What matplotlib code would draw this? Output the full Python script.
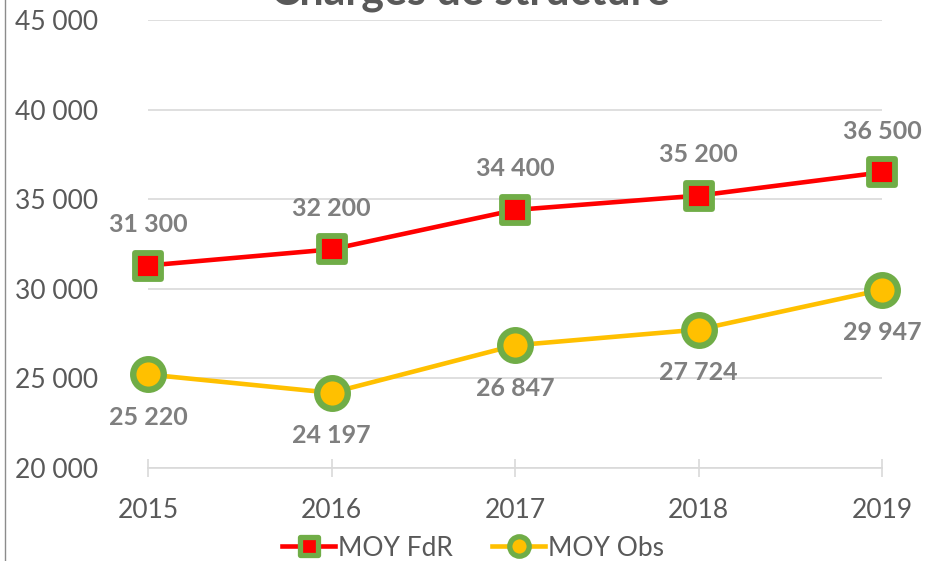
import matplotlib
matplotlib.use("Agg")
import matplotlib.pyplot as plt
from matplotlib.lines import Line2D
from matplotlib.markers import MarkerStyle

years = [2015, 2016, 2017, 2018, 2019]
moy_fdr = [31300, 32200, 34400, 35200, 36500]
moy_obs = [25220, 24197, 26847, 27724, 29947]
y_ticks = [20000, 25000, 30000, 35000, 40000, 45000]
title = "Charges de structure"
series_names = ["MOY FdR", "MOY Obs"]

def fmt(v):
    return f"{v:,}".replace(",", " ")

plt.rcParams['font.family'] = ['Lato', 'DejaVu Sans']

W, H = 928, 561
fig = plt.figure(figsize=(W / 100, H / 100), dpi=100)
ax = fig.add_axes([148 / W, (H - 468) / H, (882 - 148) / W, (468 - 20) / H])

red = "#FF0000"
yellow = "#FFC000"
green = "#70AD47"
grid = "#D9D9D9"
txt = "#595959"
lbl = "#7F7F7F"

sq = MarkerStyle("s", joinstyle="round")
ax.plot(years, moy_fdr, color=red, lw=3.3, marker=sq, ms=19, mfc=red, mec=green, mew=4.2, zorder=3,
        solid_capstyle="round", clip_on=False)
ax.plot(years, moy_obs, color=yellow, lw=3.3, marker="o", ms=22, mfc=yellow, mec=green, mew=4.6, zorder=3,
        solid_capstyle="round", clip_on=False)

for x, v in zip(years, moy_fdr):
    ax.annotate(fmt(v), (x, v), xytext=(0, 29.5), textcoords="offset points", ha="center", va="center",
                fontsize=18, fontweight="bold", color=lbl, annotation_clip=False)
for x, v in zip(years, moy_obs):
    ax.annotate(fmt(v), (x, v), xytext=(0, -31), textcoords="offset points", ha="center", va="center",
                fontsize=18, fontweight="bold", color=lbl, annotation_clip=False)

ax.set_xlim(2015, 2019)
ax.set_ylim(20000, 45000)
ax.set_yticks(y_ticks)
ax.set_yticklabels([fmt(v) for v in y_ticks])
ax.set_xticks(years)
ax.set_xticklabels([str(y) for y in years])
ax.yaxis.grid(True, color=grid, lw=1.2)
ax.set_axisbelow(True)
for s in ["top", "right", "left"]:
    ax.spines[s].set_visible(False)
ax.spines["bottom"].set_color(grid)
ax.spines["bottom"].set_linewidth(1.2)
ax.tick_params(axis="y", length=0, pad=36, labelsize=19, labelcolor=txt)
ax.tick_params(axis="x", direction="inout", length=13, width=1.2, color=grid, pad=15, labelsize=19, labelcolor=txt)
for t in ax.get_yticklabels():
    t.set_horizontalalignment("right")

fig.text(470 / W, (H - 4) / H, title, ha="center", va="baseline", fontsize=31, fontweight="bold", color=txt)

fig.add_artist(Line2D([5 / W, 5 / W], [0, 1], transform=fig.transFigure, color="#8C8C8C", lw=1))

handles = [
    Line2D([], [], color=red, lw=3.3, marker=sq, ms=13, mfc=red, mec=green, mew=3.8),
    Line2D([], [], color=yellow, lw=3.3, marker="o", ms=14, mfc=yellow, mec=green, mew=3.8),
]
fig.legend(handles, series_names, loc="center", bbox_to_anchor=(473 / W, 13 / H), ncol=2, frameon=False,
           fontsize=19, labelcolor=txt, handlelength=2.0, handletextpad=0.1, columnspacing=1.5,
           borderaxespad=0, borderpad=0)

fig.savefig("out.png", dpi=100)
